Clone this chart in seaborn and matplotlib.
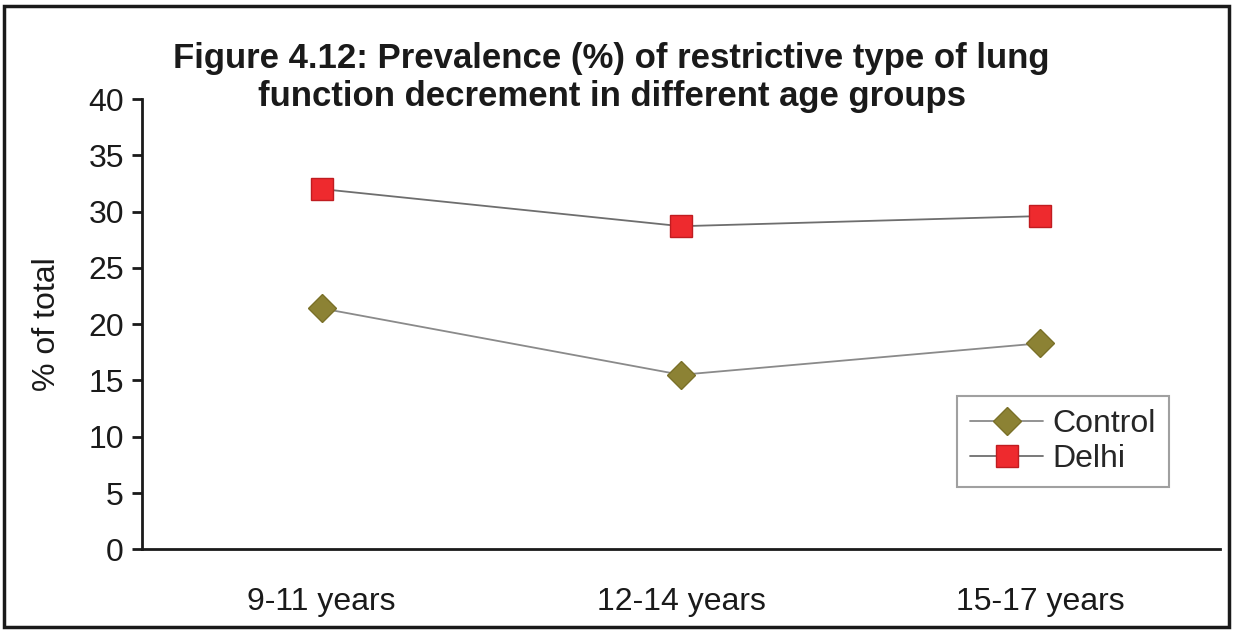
import matplotlib
matplotlib.use("Agg")
import matplotlib.pyplot as plt
from matplotlib.patches import Rectangle
from matplotlib.ticker import FixedLocator
import seaborn as sns
import pandas as pd

age_groups = ["9-11 years", "12-14 years", "15-17 years"]
control = [21.4, 15.5, 18.3]
delhi = [32.0, 28.7, 29.6]

sns.set_theme(style="white")
plt.rcParams["font.family"] = ["Liberation Sans", "DejaVu Sans"]

fig = plt.figure(figsize=(12.33, 6.31), dpi=100)
ax = fig.add_axes([0.1152, 0.1295, 0.8743, 0.7136])

df_control = pd.DataFrame({"age": age_groups, "value": control})
df_delhi = pd.DataFrame({"age": age_groups, "value": delhi})

sns.lineplot(data=df_control, x="age", y="value", ax=ax, color="#8a8a8a", lw=1.3,
             marker="D", markersize=14, markerfacecolor="#8c8234",
             markeredgecolor="#7a7028", markeredgewidth=1, label="Control")
sns.lineplot(data=df_delhi, x="age", y="value", ax=ax, color="#6e6e6e", lw=1.3,
             marker="s", markersize=16, markerfacecolor="#ee2a2e",
             markeredgecolor="#c01c20", markeredgewidth=1, label="Delhi")

ax.set_xlim(-0.5, 2.5)
ax.set_ylim(0, 40)
ax.set_yticks(range(0, 41, 5))
ax.xaxis.set_major_locator(FixedLocator([0, 1, 2]))
ax.xaxis.set_minor_locator(FixedLocator([-0.5, 0.5, 1.5, 2.5]))
ax.set_xticklabels(age_groups)
ax.tick_params(axis="x", which="major", length=0, pad=27, labelsize=23, colors="#1a1a1a")
ax.tick_params(axis="x", which="minor", length=7, width=2, direction="out", color="#1a1a1a")
ax.tick_params(axis="y", which="major", length=7, width=2, direction="out", pad=6,
               labelsize=23, colors="#1a1a1a", left=True)
ax.set_xlabel("")
ax.set_ylabel("% of total", fontsize=23, color="#1a1a1a", labelpad=19)

for side in ["top", "right"]:
    ax.spines[side].set_visible(False)
for side in ["left", "bottom"]:
    ax.spines[side].set_color("#1a1a1a")
    ax.spines[side].set_linewidth(2)

leg = ax.legend(loc="upper left", bbox_to_anchor=(0.756, 0.34), fontsize=23,
                frameon=True, fancybox=False, edgecolor="#888888",
                handlelength=2.3, handletextpad=0.3, borderpad=0.4, labelspacing=0.15,
                borderaxespad=0)
leg.get_frame().set_linewidth(1.5)

fig.text(0.496, 0.934, "Figure 4.12: Prevalence (%) of restrictive type of lung\n"
         "function decrement in different age groups",
         ha="center", va="top", fontsize=25, fontweight="bold", color="#1a1a1a",
         linespacing=1.2)

fig.patches.append(Rectangle((0.003, 0.006), 0.994, 0.985, transform=fig.transFigure,
                             fill=False, edgecolor="#1a1a1a", linewidth=2.5))

fig.savefig("out.png", dpi=100)
